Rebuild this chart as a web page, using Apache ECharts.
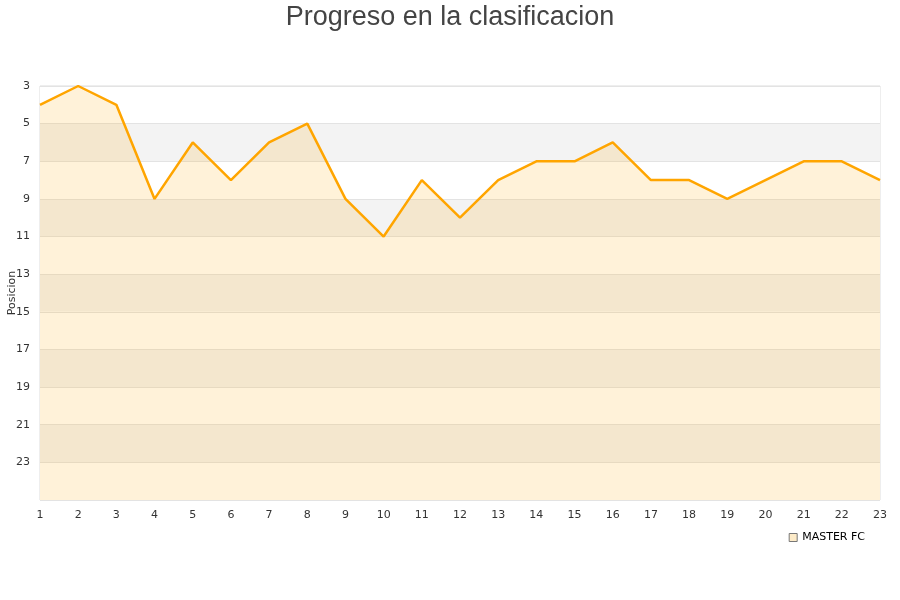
<!DOCTYPE html>
<html><head><meta charset="utf-8">
<script src="https://cdn.jsdelivr.net/npm/echarts@6/dist/echarts.min.js"></script>
<style>html,body{margin:0;padding:0;background:#fff}#c{width:900px;height:600px}</style>
</head><body><div id="c"></div>
<script>
const jornadas = ['1','2','3','4','5','6','7','8','9','10','11','12','13','14','15','16','17','18','19','20','21','22','23'];
const posiciones = [4,3,4,9,6,8,6,5,9,11,8,10,8,7,7,6,8,8,9,8,7,7,8];
const seriesName = 'MASTER FC';

const chart = echarts.init(document.getElementById('c'));
chart.setOption({
  animation: false,
  title: {
    text: 'Progreso en la clasificacion', left: 'center', top: -1,
    textStyle: {fontFamily: 'Liberation Sans, Arial', fontSize: 27, fontWeight: 'normal', color: '#444'}
  },
  legend: {
    data: [{name: seriesName, icon: 'rect', itemStyle: {color: '#fdebc8', borderColor: '#777', borderWidth: 1}}],
    right: 30, top: 527, itemWidth: 8, itemHeight: 8, itemGap: 5,
    textStyle: {fontFamily: 'DejaVu Sans', fontSize: 11, color: '#000'}
  },
  grid: {left: 40, right: 20, top: 86, bottom: 100, show: true, borderColor: '#ddd', borderWidth: 1, outerBoundsMode: 'none', containLabel: false},
  xAxis: {
    type: 'category', data: jornadas, boundaryGap: false,
    axisLine: {show: false}, axisTick: {show: false},
    axisLabel: {fontFamily: 'DejaVu Sans', fontSize: 11, color: '#333', margin: 10}
  },
  yAxis: {
    type: 'value', inverse: true, min: 3, max: 25, interval: 2,
    name: 'Posicion', nameLocation: 'middle', nameGap: 22, nameMoveOverlap: false,
    nameTextStyle: {fontFamily: 'DejaVu Sans', fontSize: 11, color: '#333'},
    axisLine: {show: false}, axisTick: {show: false},
    axisLabel: {fontFamily: 'DejaVu Sans', fontSize: 11, color: '#333', showMaxLabel: false, margin: 10},
    splitLine: {lineStyle: {color: '#e3e3e3'}},
    splitArea: {show: true, areaStyle: {color: ['#ffffff', '#f3f3f3']}}
  },
  series: [{
    name: seriesName, type: 'line', data: posiciones, showSymbol: false,
    lineStyle: {color: '#ffa500', width: 2.5},
    itemStyle: {color: '#fdebc8', borderColor: '#ffa500', borderWidth: 1},
    areaStyle: {color: 'rgba(255,165,0,0.21)', origin: 'end'}
  }]
});
</script></body></html>
